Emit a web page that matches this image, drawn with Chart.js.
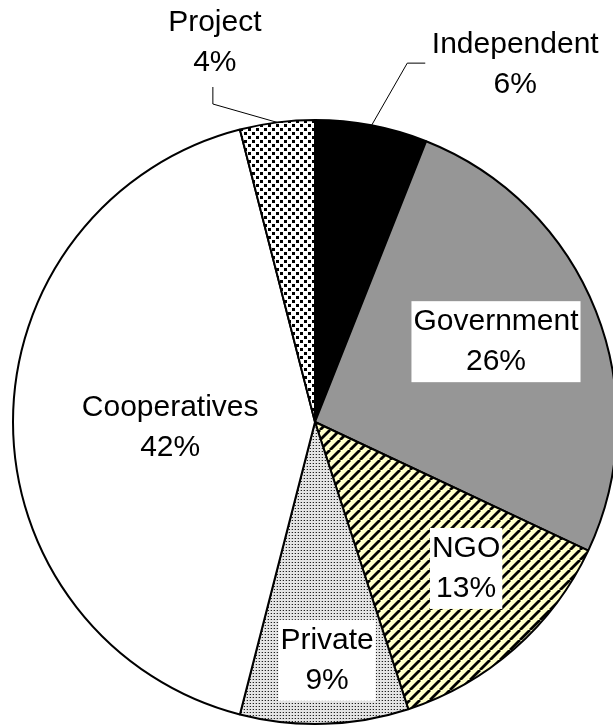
<!DOCTYPE html>
<html>
<head>
<meta charset="utf-8">
<script src="https://cdn.jsdelivr.net/npm/chart.js@4"></script>
<style>
  html, body { margin: 0; padding: 0; background: #fff; overflow: hidden; }
  #wrap { position: relative; width: 630px; height: 727px; }
</style>
</head>
<body>
<div id="wrap"><canvas id="pieCanvas"></canvas></div>
<script>
// Share of providers by type (%)
const categories = ['Independent', 'Government', 'NGO', 'Private', 'Cooperatives', 'Project'];
const shares = [6, 26, 13, 9, 42, 4];

// label placement: angle shift from slice middle (deg) and distance as fraction of radius
const labelTurn = [18.5, -2.2, -4.4, -1.1, -2.4, -7.6];
const labelDist = [1.355, 0.655, 0.698, 0.792, 0.48, 1.298];
const labelBoxed = [false, true, true, true, false, false];

const FONT = '30px "Liberation Sans", Arial, sans-serif';
const LINE_GAP = 40;

function makeTile(size, draw) {
  const c = document.createElement('canvas');
  c.width = size; c.height = size;
  const g = c.getContext('2d');
  draw(g, size);
  return g.createPattern(c, 'repeat');
}

// big staggered dots
const bigDots = makeTile(8, function(g) {
  g.fillStyle = '#fff'; g.fillRect(0, 0, 8, 8);
  g.fillStyle = '#000';
  g.fillRect(0, 0, 3, 3);
  g.fillRect(4, 4, 3, 3);
});

// fine grey dots
const fineDots = makeTile(3, function(g) {
  g.fillStyle = '#e4e4e4'; g.fillRect(0, 0, 3, 3);
  g.fillStyle = '#222';
  g.fillRect(1, 1, 1, 1);
  g.fillStyle = '#aaa';
  g.fillRect(0, 1, 1, 1);
});

// diagonal stripes, black on pale yellow
const stripes = makeTile(10, function(g, s) {
  g.fillStyle = '#ffffc8'; g.fillRect(0, 0, s, s);
  g.strokeStyle = '#000';
  g.lineWidth = 2.8;
  [-s, 0, s].forEach(function(o) {
    g.beginPath();
    g.moveTo(o, s);
    g.lineTo(o + s, 0);
    g.stroke();
  });
});

const fills = ['#000000', '#969696', stripes, fineDots, '#ffffff', bigDots];

function clockPoint(arc, turnDeg, dist) {
  const mid = (arc.startAngle + arc.endAngle) / 2 + Math.PI / 2 + turnDeg * Math.PI / 180;
  const r = arc.outerRadius * dist;
  return { x: arc.x + r * Math.sin(mid), y: arc.y - r * Math.cos(mid) };
}

const sliceLabels = {
  id: 'sliceLabels',
  afterDraw(chart) {
    const ctx = chart.ctx;
    const arcs = chart.getDatasetMeta(0).data;
    ctx.save();
    ctx.font = FONT;
    ctx.textAlign = 'center';
    ctx.textBaseline = 'middle';

    arcs.forEach(function(arc, i) {
      const p = clockPoint(arc, labelTurn[i], labelDist[i]);
      const lines = [categories[i], shares[i] + '%'];
      const w = Math.max.apply(null, lines.map(function(t) { return ctx.measureText(t).width; }));
      const top = p.y - LINE_GAP / 2;

      if (labelBoxed[i]) {
        ctx.fillStyle = '#fff';
        ctx.fillRect(p.x - w / 2 - 2, top - 21, w + 4, LINE_GAP + 41);
      }

      // leader lines for the two thin slices outside the pie
      const edge = clockPoint(arc, 0, 1);
      ctx.strokeStyle = '#000';
      ctx.lineWidth = 1;
      if (i === 0) {
        ctx.beginPath();
        ctx.moveTo(edge.x, edge.y);
        ctx.lineTo(p.x - 108, p.y - 2);
        ctx.lineTo(p.x - 90, p.y - 2);
        ctx.stroke();
      } else if (i === 5) {
        ctx.beginPath();
        ctx.moveTo(p.x - 2, p.y + 44);
        ctx.lineTo(p.x - 2, p.y + 61);
        ctx.lineTo(edge.x, edge.y);
        ctx.stroke();
      }

      ctx.fillStyle = '#000';
      lines.forEach(function(t, k) {
        ctx.fillText(t, p.x, top + k * LINE_GAP);
      });
    });
    ctx.restore();
  }
};

new Chart(document.getElementById('pieCanvas'), {
  type: 'pie',
  data: {
    labels: categories,
    datasets: [{
      data: shares,
      backgroundColor: fills,
      borderColor: '#000',
      borderWidth: 2,
    }]
  },
  options: {
    responsive: true,
    maintainAspectRatio: false,
    animation: false,
    layout: { padding: { left: 12, top: 119, right: 12, bottom: 2 } },
    plugins: {
      legend: { display: false },
      tooltip: { enabled: false }
    }
  },
  plugins: [sliceLabels]
});
</script>
</body>
</html>
